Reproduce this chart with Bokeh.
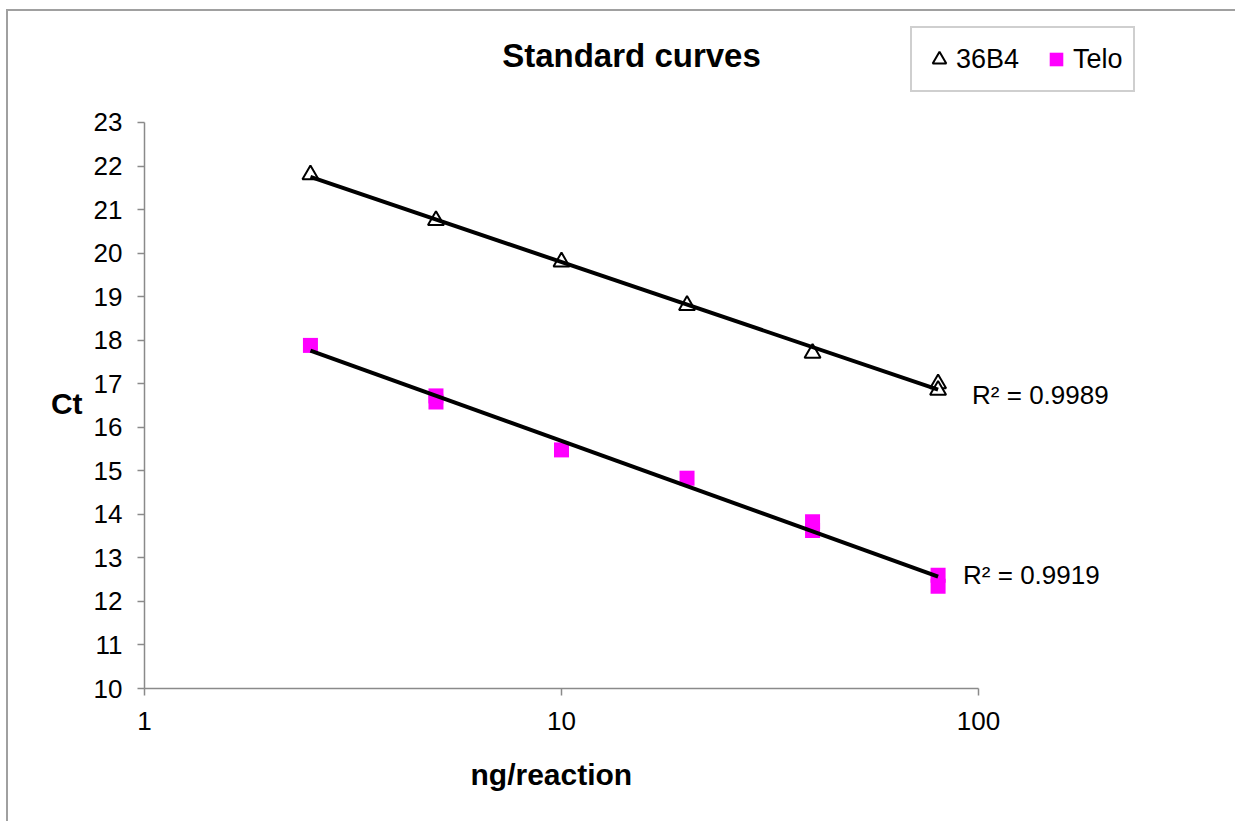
import numpy as np
from bokeh.plotting import figure
from bokeh.models import (Range1d, FixedTicker, PrintfTickFormatter, Legend, LegendItem,
                          Label, Title)
from bokeh.embed import file_html
from bokeh.resources import INLINE

# ---- data ----
x_36b4 = [2.5, 5, 10, 20, 40, 80, 80]
ct_36b4 = [21.8, 20.75, 19.8, 18.8, 17.7, 17.0, 16.85]
x_telo = [2.5, 5, 5, 10, 20, 40, 40, 80, 80]
ct_telo = [17.88, 16.72, 16.58, 15.48, 14.83, 13.83, 13.63, 12.6, 12.35]
r2_labels = ["R\u00b2 = 0.9989", "R\u00b2 = 0.9919"]
x_ticks = [1, 10, 100]
y_ticks = list(range(10, 24))
x_bounds = (1, 100)
y_bounds = (10, 23)

FONT = "Liberation Sans"
AXIS_GREY = "#8a8a8a"

# layout (pixels)
W, H = 1229, 812
ML, MB = 136, 135
PX_PER_DECADE = 417.0
PX_PER_UNIT = 43.54
frame_w = W - ML
frame_h = H - MB
x_end = 10 ** (np.log10(x_bounds[0]) + frame_w / PX_PER_DECADE)
y_end = y_bounds[0] + frame_h / PX_PER_UNIT

p = figure(width=W, height=H, x_axis_type="log",
           x_range=Range1d(x_bounds[0], x_end), y_range=Range1d(y_bounds[0], y_end),
           output_backend="svg", toolbar_location=None,
           min_border_left=ML, min_border_right=0,
           min_border_top=0, min_border_bottom=MB)
p.styles = {"border-top": "2px solid #a0a0a0", "border-left": "2px solid #a0a0a0",
            "margin-left": "6px", "margin-top": "9px"}
p.outline_line_color = None
p.xgrid.visible = False
p.ygrid.visible = False

for ax in (p.xaxis[0], p.yaxis[0]):
    ax.axis_line_color = AXIS_GREY
    ax.axis_line_width = 1.5
    ax.major_tick_line_color = AXIS_GREY
    ax.major_tick_line_width = 1.5
    ax.major_tick_in = 0
    ax.major_tick_out = 7
    ax.minor_tick_line_color = None
    ax.major_label_text_font = FONT
    ax.major_label_text_font_size = "26px"
    ax.major_label_text_color = "black"
    ax.axis_label_text_font = FONT
    ax.axis_label_text_font_style = "bold"
    ax.axis_label_text_font_size = "30px"
    ax.axis_label_text_color = "black"

p.xaxis.bounds = x_bounds
p.xaxis.ticker = FixedTicker(ticks=x_ticks)
p.xaxis.formatter = PrintfTickFormatter(format="%d")
p.xaxis.major_label_standoff = 16

p.yaxis.bounds = y_bounds
p.yaxis.ticker = FixedTicker(ticks=y_ticks)
p.yaxis.axis_label = "\n\n\nCt"
p.yaxis.axis_label_orientation = "horizontal"
p.yaxis.axis_label_text_line_height = 1.08
p.yaxis.major_label_standoff = 15
p.yaxis.axis_label_standoff = 8

# x-axis title placed under the axis, centred under the 1..100 span
p.add_layout(Title(text="ng/reaction", align="left", offset=326, vertical_align="top",
                   standoff=50, text_font=FONT, text_font_style="bold",
                   text_font_size="30px", text_color="black"), "below")

# markers
r_36 = p.scatter(x_36b4, ct_36b4, marker="triangle", size=16,
                 line_color="black", line_width=2, fill_color="white")
r_te = p.scatter(x_telo, ct_telo, marker="square", size=15,
                 line_color=None, fill_color="#ff00ff")

# log-linear trendlines fitted on the data
fits = []
for xs, ys in ((x_36b4, ct_36b4), (x_telo, ct_telo)):
    lx = np.log10(np.array(xs, dtype=float))
    slope, icpt = np.polyfit(lx, np.array(ys, dtype=float), 1)
    xline = np.array([min(xs), max(xs)], dtype=float)
    yline = slope * np.log10(xline) + icpt
    p.line(xline, yline, line_color="black", line_width=4)
    fits.append((xline[-1], yline[-1]))

# R^2 labels
offsets = [(34, -5), (25, 2)]
for (fx, fy), txt, (dx, dy) in zip(fits, r2_labels, offsets):
    p.add_layout(Label(x=fx, y=fy, text=txt, x_offset=dx, y_offset=dy,
                       text_font=FONT, text_font_size="26px", text_color="black",
                       text_baseline="middle", text_align="left"))

# title
p.add_layout(Label(x=487, y=633, x_units="screen", y_units="screen",
                   text="Standard curves", text_font=FONT, text_font_style="bold",
                   text_font_size="33px", text_align="center", text_baseline="middle",
                   text_color="black"))

# legend
legend = Legend(items=[LegendItem(label="36B4", renderers=[r_36]),
                       LegendItem(label="Telo", renderers=[r_te])],
                orientation="horizontal", location=(766, 596),
                glyph_width=34, glyph_height=42, label_standoff=0, spacing=20,
                padding=10, margin=0,
                label_text_font=FONT, label_text_font_size="27px",
                label_text_color="black",
                border_line_color="#a0a0a0", border_line_width=2,
                background_fill_color="white", background_fill_alpha=1)
p.add_layout(legend, "center")

open("out.html", "w").write(file_html(p, INLINE))
